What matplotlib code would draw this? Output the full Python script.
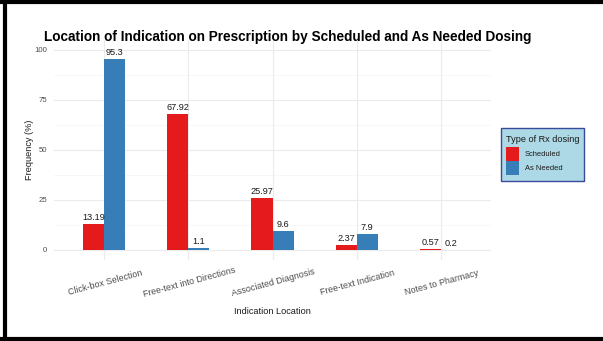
import matplotlib
matplotlib.use("Agg")
import matplotlib.pyplot as plt
from matplotlib.lines import Line2D
from matplotlib.patches import Rectangle
import numpy as np

plt.rcParams["font.family"] = ["Liberation Sans", "DejaVu Sans"]

categories = ["Click-box Selection", "Free-text into Directions", "Associated Diagnosis",
              "Free-text Indication", "Notes to Pharmacy"]
scheduled = [13.19, 67.92, 25.97, 2.37, 0.57]
as_needed = [95.3, 1.1, 9.6, 7.9, 0.2]
series_names = ["Scheduled", "As Needed"]
series_colors = ["#E41A1C", "#377EB8"]
y_ticks = [0, 25, 50, 75, 100]

W, H = 603, 341
fig = plt.figure(figsize=(W / 100, H / 100), dpi=100)
fig.patch.set_facecolor("white")


def fx(px):
    return px / W


def fy(py):
    return 1 - py / H


# panel placement in pixels
px0, px1, py0, py1 = 54, 491, 40, 260
ax = fig.add_axes([fx(px0), fy(py1), (px1 - px0) / W, (py1 - py0) / H])
ax.set_facecolor("white")

x = np.arange(1, len(categories) + 1)
bw = 0.25
ax.set_xlim(0.4, len(categories) + 0.6)
ax.set_ylim(-5.0, 105.0)

# grid like a minimal theme
for yv in y_ticks:
    ax.axhline(yv, color="#EBEBEB", lw=0.8, zorder=0)
for yv in [12.5, 37.5, 62.5, 87.5]:
    ax.axhline(yv, color="#F4F4F4", lw=0.5, zorder=0)
for xv in x:
    ax.axvline(xv, color="#EBEBEB", lw=0.8, zorder=0)

for vals, off, col in [(scheduled, -bw / 2, series_colors[0]), (as_needed, bw / 2, series_colors[1])]:
    ax.bar(x + off, vals, width=bw, color=col, zorder=2)
    for xi, v in zip(x, vals):
        ax.text(xi + off, v + 1.0, f"{v:g}", ha="center", va="bottom", fontsize=6.6,
                color="#1a1a1a", zorder=3)

for s in ax.spines.values():
    s.set_visible(False)
ax.tick_params(length=0)
ax.set_yticks(y_ticks)
ax.set_yticklabels([str(v) for v in y_ticks], fontsize=5.6, color="#4D4D4D")
ax.set_xticks(x)
ax.set_xticklabels(categories, rotation=15, fontsize=6.4, color="#4D4D4D",
                   ha="center", rotation_mode="anchor")
ax.tick_params(axis="x", pad=13)
ax.tick_params(axis="y", pad=5)

fig.text(fx(30), fy(150), "Frequency (%)", rotation=90, ha="center", va="center",
         fontsize=6.6, color="#1a1a1a")
fig.text(fx(272), fy(311), "Indication Location", ha="center", va="center",
         fontsize=6.6, color="#1a1a1a")
fig.text(fx(288), fy(37), "Location of Indication on Prescription by Scheduled and As Needed Dosing",
         ha="center", va="center", fontsize=9.8, fontweight="bold", color="black")

# legend box drawn in figure pixels
lx0, ly0, lx1, ly1 = 501, 128, 584, 181
fig.add_artist(Rectangle((fx(lx0), fy(ly1)), (lx1 - lx0) / W, (ly1 - ly0) / H,
                         transform=fig.transFigure, facecolor="#ADD8E6",
                         edgecolor="#3A4A9A", lw=1.0))
fig.text(fx(506), fy(139), "Type of Rx dosing", ha="left", va="center",
         fontsize=6.6, color="#1a1a1a")
for i, (name, col) in enumerate(zip(series_names, series_colors)):
    top = 147 + 14 * i
    fig.add_artist(Rectangle((fx(506), fy(top + 14)), 13 / W, 14 / H,
                             transform=fig.transFigure, facecolor=col, edgecolor="none"))
    fig.text(fx(525), fy(top + 7), name, ha="left", va="center", fontsize=5.4,
             color="#1a1a1a")

# outer frame lines
fig.add_artist(Line2D([fx(5), fx(5)], [0, 1], transform=fig.transFigure, color="black", lw=3))
fig.add_artist(Line2D([0, 1], [fy(1.5), fy(1.5)], transform=fig.transFigure, color="black", lw=3))
fig.add_artist(Line2D([0, 1], [fy(338.5), fy(338.5)], transform=fig.transFigure, color="black", lw=3))

fig.savefig("out.png", dpi=100, facecolor="white")
